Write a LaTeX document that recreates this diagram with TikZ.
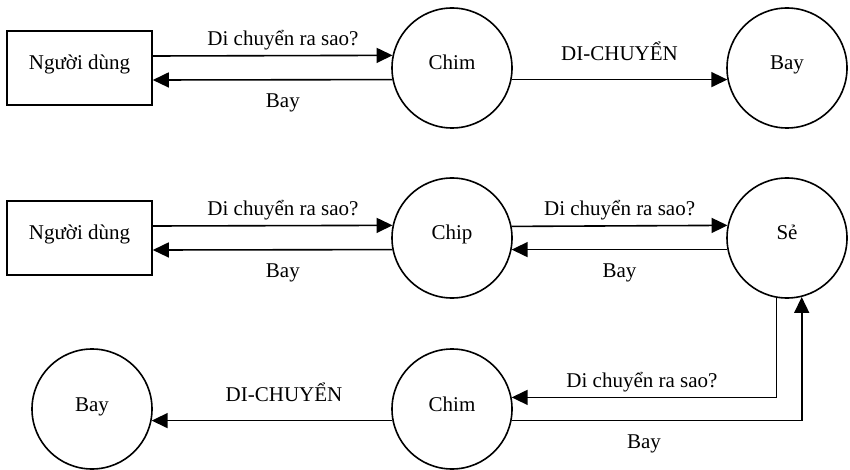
\documentclass[tikz,border=0pt]{standalone}
\usepackage{fontspec}
\setmainfont{Liberation Serif}
\usetikzlibrary{arrows.meta}
\begin{document}
\begin{tikzpicture}[x=1pt,y=-1pt,
  every node/.style={font=\fontsize{21}{25}\selectfont},
  boxnode/.style={draw, line width=1.6pt, rectangle, minimum width=145pt, minimum height=74pt, inner sep=0pt, text height=9pt, text depth=5pt},
  circ/.style={draw, line width=1.6pt, circle, minimum size=120pt, inner sep=0pt, text height=9pt, text depth=5pt},
  arr/.style={line width=1.6pt, -{Triangle[length=16pt,width=15pt]}},
  labup/.style={anchor=base, yshift=10pt, inner sep=0pt},
  labdi/.style={anchor=base, yshift=19pt, inner sep=0pt},
  labdn/.style={anchor=base, yshift=-28pt, inner sep=0pt}]
\useasboundingbox (0,0) rectangle (850,470);

% row 1
\node[boxnode] (u1) at (79.5,68) {Người dùng};
\node[circ] (c1) at (452,68) {Chim};
\node[circ] (b1) at (787,68) {Bay};
% row 2
\node[boxnode] (u2) at (79.5,238) {Người dùng};
\node[circ] (c2) at (452,238) {Chip};
\node[circ] (s2) at (787,238) {Sẻ};
% row 3
\node[circ] (b3) at (92,409) {Bay};
\node[circ] (c3) at (452,409) {Chim};

% row 1 connectors
\draw[arr] ([yshift=12pt]u1.east) -- node[pos=.543,labup]{Di chuyển ra sao?} (c1.168.46);
\draw[arr] (c1.191.54) -- node[pos=.457,labdn]{Bay} ([yshift=-12pt]u1.east);
\draw[arr] (c1.-11.54) -- node[pos=.5,labdi]{DI-CHUYỂN} (b1.191.54);

% row 2 connectors
\draw[arr] ([yshift=12pt]u2.east) -- node[pos=.543,labup]{Di chuyển ra sao?} (c2.168.46);
\draw[arr] (c2.191.54) -- node[pos=.457,labdn]{Bay} ([yshift=-12pt]u2.east);
\draw[arr] (c2.11.54) -- node[pos=.5,labup]{Di chuyển ra sao?} (s2.168.46);
\draw[arr] (s2.191.54) -- node[pos=.5,labdn]{Bay} (c2.-11.54);

% row 3 connectors
\draw[arr] (c3.191.54) -- node[pos=.45,labdi]{DI-CHUYỂN} (b3.-11.54);
\draw[arr] (s2.260.4) |- node[pos=.754,labup]{Di chuyển ra sao?} (c3.11.54);
\draw[arr] (c3.-11.54) -| node[pos=.228,labdn]{Bay} (s2.284.5);
\end{tikzpicture}
\end{document}
